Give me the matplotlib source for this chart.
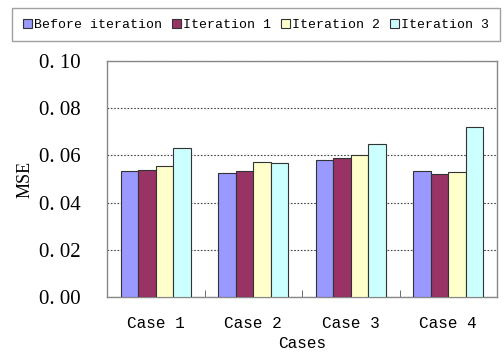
import numpy as np
import matplotlib
matplotlib.use("Agg")
import matplotlib.pyplot as plt

cases = ["Case 1", "Case 2", "Case 3", "Case 4"]
series_names = ["Before iteration", "Iteration 1", "Iteration 2", "Iteration 3"]
before = [0.0534, 0.0525, 0.0579, 0.0534]
iter1 = [0.0538, 0.0534, 0.0588, 0.0521]
iter2 = [0.0553, 0.0572, 0.0603, 0.0530]
iter3 = [0.0633, 0.0568, 0.0648, 0.0720]
colors = ["#9999FF", "#993366", "#FFFFCC", "#CCFFFF"]

fig = plt.figure(figsize=(5.04, 3.56), dpi=100)
ax = fig.add_axes([107 / 504, 1 - 297 / 356, 390 / 504, 236 / 356])

x = np.arange(len(cases))
w = 0.18
for i, (vals, name) in enumerate(zip([before, iter1, iter2, iter3], series_names)):
    ax.bar(x + (i - 1.5) * w, vals, w, color=colors[i], edgecolor="#333333",
           linewidth=0.8, label=name, zorder=3)

ax.set_xlim(-0.5, 3.5)
ax.set_ylim(0, 0.10)
ax.set_yticks([0, 0.02, 0.04, 0.06, 0.08, 0.10])
ax.set_yticklabels(["0. 00", "0. 02", "0. 04", "0. 06", "0. 08", "0. 10"],
                   family="Liberation Serif", fontsize=15)
ax.set_xticks(x)
ax.set_xticklabels(cases, family="Liberation Mono", fontsize=11.5)
ax.set_xticks([0.5, 1.5, 2.5], minor=True)
ax.tick_params(axis="x", which="major", length=0, pad=14)
ax.tick_params(axis="x", which="minor", length=5, direction="in", color="#555555")
ax.tick_params(axis="y", length=0, pad=19)
ax.yaxis.grid(True, linestyle=(0, (1.5, 1.5)), color="#444444", linewidth=0.8, zorder=0)
for s in ax.spines.values():
    s.set_color("#888888")
    s.set_linewidth(1.0)

ax.set_xlabel("Cases", family="Liberation Mono", fontsize=11.5, labelpad=3)
ax.set_ylabel("MSE", family="Liberation Serif", fontsize=13, labelpad=4)

leg = fig.legend(loc="upper left", bbox_to_anchor=(12 / 504, 1 - 38 / 356, 488 / 504, 30 / 356),
                 mode="expand", ncol=4, frameon=True, fancybox=False,
                 prop={"family": "Liberation Mono", "size": 9.5},
                 handlelength=0.7, handleheight=0.7, handletextpad=0.2,
                 columnspacing=0.8, borderaxespad=0.0, borderpad=0.8)
leg.get_frame().set_edgecolor("#888888")
leg.get_frame().set_linewidth(1.0)

fig.savefig("out.png", dpi=100)
